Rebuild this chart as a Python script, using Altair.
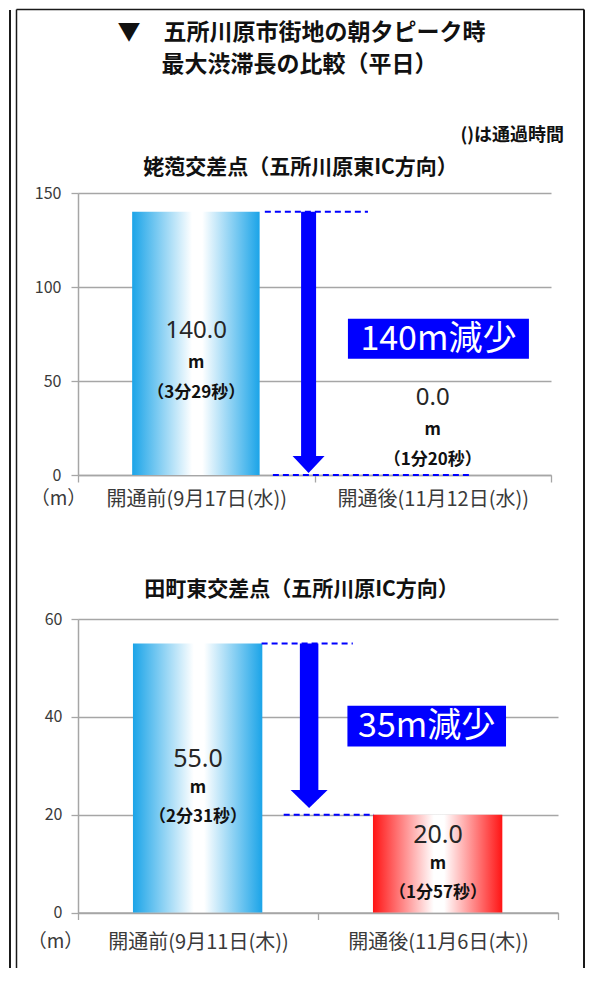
import altair as alt
import pandas as pd

# ---------------- data ----------------
main_title = ["▼　五所川原市街地の朝夕ピーク時", "最大渋滞長の比較（平日）"]
note_text = ["()は通過時間"]
unit_text = "m"
axis_unit = "（m）"

p1_title = ["姥萢交差点（五所川原東IC方向）"]
p1_categories = ["開通前(9月17日(水))", "開通後(11月12日(水))"]
p1_values = [140.0, 0.0]
p1_times = ["（3分29秒）", "（1分20秒）"]
p1_ticks = [0, 50, 100, 150]

p2_title = ["田町東交差点（五所川原IC方向）"]
p2_categories = ["開通前(9月11日(木))", "開通後(11月6日(木))"]
p2_values = [55.0, 20.0]
p2_times = ["（2分31秒）", "（1分57秒）"]
p2_ticks = [0, 20, 40, 60]

# ---------------- style ----------------
FONT_JP = "Noto Sans CJK JP"
FONT_NUM = "Noto Sans"
GRAY = "#a6a6a6"
TXT = "#3a3a3a"
BLUE = "#0000ff"


def grad(edge):
    return {"gradient": "linear", "x1": 0, "y1": 0, "x2": 1, "y2": 0,
            "stops": [{"offset": 0, "color": edge},
                      {"offset": 0.47, "color": "#ffffff"},
                      {"offset": 0.55, "color": "#ffffff"},
                      {"offset": 1, "color": edge}]}


BAR_FILLS = [grad("#1ba4e8"), grad("#ff1414")]

TOP = dict(w=473, h=282, bar_lo=0.229, bar_hi=0.768, arrow_x=0.975, shaft_w=15,
           head_w=32, head_h=17, tip_gap=2, dash_upper=(0.79, 1.226), dash_lower=(0.824, 1.653),
           box_x=1.524, box_w=181, box_h=40, box_dy=4.7, label_shift=[12.6, 77],
           gap_m=32, gap_t=62, value_fs=24, ylabel_pad=10, xlabel_pad=7,
           ytitle=(-20, 305.7), title_xy=(222.5, -25.3), fills=[BAR_FILLS[0], BAR_FILLS[0]])
BOT = dict(w=480, h=293.5, bar_lo=0.229, bar_hi=0.768, arrow_x=0.963, shaft_w=18.5,
           head_w=37, head_h=18, tip_gap=6.7, dash_upper=(0.765, 1.145), dash_lower=(0.857, 1.233),
           box_x=1.453, box_w=158.6, box_h=40.7, box_dy=3, label_shift=[19.3, 29],
           gap_m=29, gap_t=58, value_fs=25, ylabel_pad=9, xlabel_pad=12.5,
           ytitle=(-23, 322.7), title_xy=(223.5, -29.3), fills=[BAR_FILLS[0], BAR_FILLS[1]])


def panel(title, cats, vals, times, ticks, L, extra=None):
    n = len(cats)
    ymax = ticks[-1]
    ppu = L["h"] / ymax
    before, after = vals[0], vals[-1]

    df = pd.DataFrame({
        "idx": list(range(n)),
        "cat": cats,
        "value": vals,
        "time": times,
        "x0": [i + L["bar_lo"] for i in range(n)],
        "x1": [i + L["bar_hi"] for i in range(n)],
        "xc": [i + 0.5 for i in range(n)],
        "label_y": [v / 2 + s / ppu for v, s in zip(vals, L["label_shift"])],
        "label": [f"{v:.1f}" for v in vals],
        "unit": [unit_text] * n,
    })

    xs = alt.Scale(domain=[0, n], nice=False, zero=False)
    ys = alt.Scale(domain=[0, ymax], nice=False)
    label_expr = ("datum.value == 0.5 ? '" + cats[0] + "' : datum.value == 1.5 ? '"
                  + cats[1] + "' : ''")
    x_axis = alt.Axis(values=[0, 0.5, 1, 1.5, 2], labelExpr=label_expr, title=None, grid=False,
                      domainColor=GRAY, domainWidth=1.5, tickColor=GRAY, tickSize=7, tickWidth=1.3,
                      tickOpacity={"condition": {"test": "datum.value % 1 === 0", "value": 1}, "value": 0},
                      labelFont=FONT_JP, labelFontSize=20, labelColor=TXT, labelLimit=0,
                      labelPadding=L["xlabel_pad"], labelOverlap=False, labelFlush=False)
    y_axis = alt.Axis(values=ticks, format="d", grid=True, gridColor=GRAY, gridWidth=1.3,
                      domainColor=GRAY, domainWidth=1.5, tickColor=GRAY, tickSize=7, tickWidth=1.3,
                      labelFont=FONT_JP, labelFontSize=16, labelColor=TXT,
                      labelPadding=L["ylabel_pad"],
                      title=axis_unit, titleAngle=0, titleX=L["ytitle"][0], titleY=L["ytitle"][1],
                      titleFont=FONT_JP, titleFontSize=19, titleFontWeight="normal",
                      titleColor=TXT, titleAlign="center", titleBaseline="middle")

    def X(f):
        return alt.X(f, type="quantitative", scale=xs, axis=x_axis)

    def Y(f):
        return alt.Y(f, type="quantitative", scale=ys, axis=y_axis)

    base = alt.Chart(df)
    layers = []
    for i in range(n):
        layers.append(base.transform_filter(f"datum.idx == {i}")
                      .mark_rect(fill=L["fills"][i], strokeWidth=0)
                      .encode(x=X("x0"), x2="x1", y=Y("value"), y2=alt.datum(0)))

    dash_df = pd.DataFrame({"xa": [L["dash_upper"][0], L["dash_lower"][0]],
                            "xb": [L["dash_upper"][1], L["dash_lower"][1]],
                            "yv": [before, after]})
    layers.append(alt.Chart(dash_df).mark_rule(color=BLUE, strokeWidth=2, strokeDash=[6, 4])
                  .encode(x=X("xa"), x2="xb", y=Y("yv")))

    head_c = after + (L["tip_gap"] + L["head_h"] / 2) / ppu
    arrow_df = pd.DataFrame({"ax": [L["arrow_x"]], "ytop": [before], "yhead": [head_c]})
    layers.append(alt.Chart(arrow_df).mark_rule(color=BLUE, strokeWidth=L["shaft_w"], strokeCap="butt")
                  .encode(x=X("ax"), y=Y("ytop"), y2="yhead"))
    r = L["head_h"] / L["head_w"]
    tri = f"M-1,{-r:.3f}L1,{-r:.3f}L0,{r:.3f}Z"
    layers.append(alt.Chart(arrow_df).mark_point(shape=tri, size=L["head_w"] ** 2, filled=True,
                                                 color=BLUE, opacity=1, strokeWidth=0)
                  .encode(x=X("ax"), y=Y("yhead")))

    # value labels
    layers.append(base.mark_text(font=FONT_NUM, fontSize=L["value_fs"], color="#262626",
                                 baseline="middle", align="center")
                  .encode(x=X("xc"), y=Y("label_y"), text="label:N"))
    layers.append(base.mark_text(font=FONT_JP, fontSize=17, fontWeight="bold", color="#111111",
                                 baseline="middle", align="center", dy=L["gap_m"])
                  .encode(x=X("xc"), y=Y("label_y"), text="unit:N"))
    layers.append(base.mark_text(font=FONT_JP, fontSize=17, fontWeight="bold", color="#111111",
                                 baseline="middle", align="center", dy=L["gap_t"])
                  .encode(x=X("xc"), y=Y("label_y"), text="time:N"))

    # reduction box
    r2 = L["box_h"] / L["box_w"]
    rect_path = f"M-1,{-r2:.3f}L1,{-r2:.3f}L1,{r2:.3f}L-1,{r2:.3f}Z"
    box_df = pd.DataFrame({"bx": [L["box_x"]],
                           "by": [(before + after) / 2 + L["box_dy"] / ppu],
                           "txt": [f"{int(round(before - after))}m減少"]})
    layers.append(alt.Chart(box_df).mark_point(shape=rect_path, size=L["box_w"] ** 2, filled=True,
                                               color=BLUE, opacity=1, strokeWidth=0)
                  .encode(x=X("bx"), y=Y("by")))
    layers.append(alt.Chart(box_df).mark_text(font=FONT_JP, fontSize=34, color="#ffffff",
                                              baseline="middle", align="center", dy=1)
                  .encode(x=X("bx"), y=Y("by"), text="txt:N"))

    # panel title
    layers.append(alt.Chart(pd.DataFrame({"t": title})).mark_text(
        font=FONT_JP, fontSize=21, fontWeight="bold", color="#111111", baseline="middle", align="center")
        .encode(x=alt.value(L["title_xy"][0]), y=alt.value(L["title_xy"][1]), text="t:N"))

    if extra:
        layers.extend(extra)

    return alt.layer(*layers).properties(width=L["w"], height=L["h"])


one = pd.DataFrame({"k": [0]})
decor = [
    # frame lines
    alt.Chart(one).mark_rule(color="#1a1a1a", strokeWidth=2)
    .encode(x=alt.value(-68), y=alt.value(-183), y2=alt.value(775)),
    alt.Chart(one).mark_rule(color="#1a1a1a", strokeWidth=1.5)
    .encode(x=alt.value(-61.5), y=alt.value(-183.5), y2=alt.value(775)),
    alt.Chart(one).mark_rule(color="#1a1a1a", strokeWidth=2)
    .encode(x=alt.value(506), y=alt.value(-183.5), y2=alt.value(775)),
    alt.Chart(one).mark_rule(color="#1a1a1a", strokeWidth=1.5)
    .encode(x=alt.value(-61.5), x2=alt.value(506), y=alt.value(-183.5)),
    # main title
    alt.Chart(pd.DataFrame({"t": [main_title[0]]})).mark_text(
        font=FONT_JP, fontSize=23, fontWeight="bold", color="#111111", baseline="middle", align="center")
    .encode(x=alt.value(223.5), y=alt.value(-160), text="t:N"),
    alt.Chart(pd.DataFrame({"t": [main_title[1]]})).mark_text(
        font=FONT_JP, fontSize=23, fontWeight="bold", color="#111111", baseline="middle", align="center")
    .encode(x=alt.value(221.4), y=alt.value(-128), text="t:N"),
    alt.Chart(pd.DataFrame({"t": note_text})).mark_text(
        font=FONT_JP, fontSize=18, fontWeight="bold", color="#111111", baseline="middle", align="right")
    .encode(x=alt.value(486), y=alt.value(-57.3), text="t:N"),
]

top = panel(p1_title, p1_categories, p1_values, p1_times, p1_ticks, TOP, extra=decor)
bottom = panel(p2_title, p2_categories, p2_values, p2_times, p2_ticks, BOT)

chart = alt.vconcat(top, bottom, spacing=144, bounds="flush").properties(
    padding=0, background="#ffffff"
).configure_view(stroke="transparent")

chart.save("out.html", embed_options={"renderer": "svg", "actions": False})
